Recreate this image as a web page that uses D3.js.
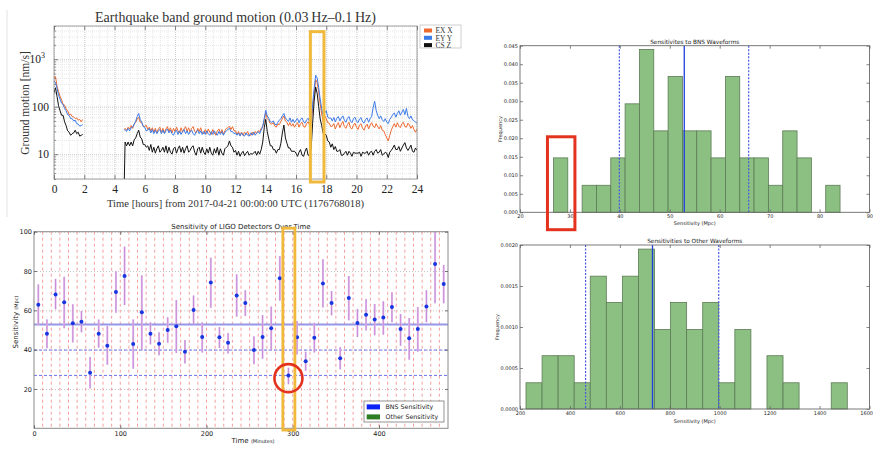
<!DOCTYPE html>
<html><head><meta charset="utf-8">
<script src="https://cdn.jsdelivr.net/npm/d3@7"></script>
<style>body{margin:0;background:#fff}svg{display:block}</style>
</head><body><svg id="c" width="873" height="455"></svg>
<script>
// ================= DATA =================
// Panel 1: earthquake band ground motion (nm/s) vs hours
const p1XTicks = [0,2,4,6,8,10,12,14,16,18,20,22,24];
const p1YTicks = [10,100,1000];
const seriesNames = ["EX X","EY Y","CS Z"];
const hoursA = [0.0,0.1,0.2,0.3,0.4,0.5,0.6,0.7,0.8,0.9,1.0,1.1,1.2,1.3,1.4,1.5,1.6,1.7,1.8,1.9];
const exA = [400,430,270,210,165,140,112,108,90,82,68,70,62,61,56,58,52,54,48,54];
const eyA = [350,320,245,175,145,118,112,92,82,68,66,56,56,50,52,44,43,39,40,42];
const czA = [200,250,165,105,82,66,66,48,40,31,29,25,27,28,32,27,29,24,25,26];
const hoursB = [4.65,4.7,4.8,4.9,
 5.0,5.1,5.2,5.3,5.4,5.5,5.6,5.7,5.8,5.9,
 6.0,6.1,6.2,6.3,6.4,6.5,6.6,6.7,6.8,6.9,
 7.0,7.1,7.2,7.3,7.4,7.5,7.6,7.7,7.8,7.9,
 8.0,8.1,8.2,8.3,8.4,8.5,8.6,8.7,8.8,8.9,
 9.0,9.1,9.2,9.3,9.4,9.5,9.6,9.7,9.8,9.9,
 10.0,10.1,10.2,10.3,10.4,10.5,10.6,10.7,10.8,10.9,
 11.0,11.1,11.2,11.3,11.4,11.5,11.6,11.7,11.8,11.9,
 12.0,12.1,12.2,12.3,12.4,12.5,12.6,12.7,12.8,12.9,
 13.0,13.1,13.2,13.3,13.4,13.5,13.6,13.7,13.8,13.9,
 14.0,14.1,14.2,14.3,14.4,14.5,14.6,14.7,14.8,14.9,
 15.0,15.1,15.2,15.3,15.4,15.5,15.6,15.7,15.8,15.9,
 16.0,16.1,16.2,16.3,16.4,16.5,16.6,16.7,16.8,16.9,
 17.0,17.1,17.2,17.3,17.4,17.5,17.6,17.7,17.8,17.9,
 18.0,18.1,18.2,18.3,18.4,18.5,18.6,18.7,18.8,18.9,
 19.0,19.1,19.2,19.3,19.4,19.5,19.6,19.7,19.8,19.9,
 20.0,20.1,20.2,20.3,20.4,20.5,20.6,20.7,20.8,20.9,
 21.0,21.1,21.2,21.3,21.4,21.5,21.6,21.7,21.8,21.9,
 22.0,22.1,22.2,22.3,22.4,22.5,22.6,22.7,22.8,22.9,
 23.0,23.1,23.2,23.3,23.4,23.5,23.6,23.7,23.8,23.9,
 24.0];
const exB = [33,35,32,37,
 34,40,35,43,47,55,60,47,46,39,
 38,41,33,37,31,36,29,35,28,34,
 37,29,35,28,34,38,30,36,28,35,
 30,37,31,28,36,29,34,38,30,36,
 29,35,38,30,28,35,30,36,28,27,
 33,27,34,29,26,33,28,25,31,34,
 28,33,26,31,35,36,39,33,38,31,
 31,26,30,25,29,25,29,26,30,25,
 25,29,26,30,27,31,30,35,38,50,
 75,56,52,44,43,46,39,37,43,42,
 49,56,64,50,47,40,46,39,44,37,
 42,46,37,44,47,38,37,44,48,41,
 46,90,190,370,320,200,115,70,48,64,
 56,46,45,38,39,44,34,41,46,36,
 43,49,38,35,42,47,36,34,41,45,
 37,33,41,44,35,32,39,43,34,41,
 46,39,36,44,38,34,40,32,31,26,
 22,19,25,32,38,44,37,46,39,36,
 44,47,38,37,45,41,35,40,33,29,
 34];
const eyB = [32,33,30,35,
 31,36,37,43,49,62,72,54,47,38,
 37,31,32,35,28,33,27,32,27,31,
 33,27,32,27,31,34,28,32,27,25,
 30,32,26,31,26,30,33,27,31,26,
 30,32,27,25,30,32,27,31,26,30,
 26,31,27,25,30,26,31,27,25,30,
 26,30,25,29,31,33,35,30,30,27,
 28,25,28,24,28,25,24,28,25,24,
 28,25,29,25,28,30,27,32,39,57,
 84,64,57,48,47,50,43,41,47,52,
 56,64,72,58,53,49,58,47,54,46,
 52,56,46,54,58,48,45,53,57,48,
 54,110,240,460,400,250,145,90,63,74,
 82,60,57,58,50,59,48,57,62,50,
 58,64,52,47,57,62,50,46,56,60,
 49,46,55,59,48,45,54,58,47,56,
 62,95,130,83,66,56,64,53,49,56,
 47,44,54,60,68,74,60,72,82,66,
 77,87,68,92,63,56,64,53,51,47,
 45];
const czB = [3,18,15,18,
 15,18,15,20,22,27,32,23,21,16,
 16,14,15,12,16,11,14,10.5,13,15,
 11,12,14,11,15,10.5,14,11,10,13,
 14,10.5,13,15,11,14,10.5,13,15,11,
 12,14,15,11,9.5,13,14,10.5,14,11,
 9.8,13,10.5,14,10.5,9.5,13,10.5,14,9.5,
 13,10.5,9.5,13,14,15,19,15,14,11,
 12,9.5,11.5,9,10.5,11.5,9.3,10.5,11.5,9.5,
 10.3,10,10.5,11.5,9.5,11.5,10,12.5,18,36,
 54,30,21,15,15,12.5,12.5,10.5,12.5,12.5,
 17,28,41,22,17,13.5,13.5,11.5,11.5,11.5,
 10.5,9,11,12.5,9.5,9,11.5,13.5,9.5,9.5,
 13,45,130,260,190,100,55,40,27,27,
 25,19,18,14,16.5,12.5,14.5,11.5,11.5,12.5,
 9.5,9.5,10.5,11.5,9.5,11.5,10.5,9,11,10.5,
 10.5,10.5,11,9,11,10.5,10.5,11.5,9.5,11,
 11.5,9.5,11.5,12.5,10.5,11,12.5,9.5,10,11,
 10.5,8.5,11,12,13.5,15.5,12.5,12.5,14.5,11.5,
 13.5,15.5,17.5,13.5,12,13.5,15.5,11.5,11,13.5,
 12];
const p1Highlight = [16.95, 17.85]; // hours

// Panel 2: sensitivity over time
const minutes = [5,15,25,35,45,55,65,75,85,95,105,115,125,135,145,155,165,175,185,195,205,215,225,235,245,255,265,275,285,295,305,315,325,335,345,355,365,375,385,395,405,415,425,435,445,455,465,475];
const sensitivity = [62.9,48.1,68.1,64.1,53.4,54.2,28.3,48.1,42.0,69.3,77.5,42.9,59.0,48.1,43.0,50.0,51.9,39.0,60.2,46.4,74.1,46.3,43.5,67.6,63.7,39.8,46.4,50.9,76.3,26.8,46.3,34.1,46.1,73.7,63.7,35.6,66.3,53.6,57.8,55.4,56.3,61.7,50.5,45.8,50.5,62.0,83.6,73.4];
const errLow = [52.5,40.7,60.5,50.9,43.7,48.8,20.3,41.0,32.3,58.8,62.7,30.3,39.8,42.7,37.1,43.5,38.3,33.0,52.9,38.5,61.3,40.8,38.1,56.8,57.1,32.6,35.4,39.8,64.9,22.4,37.6,29.3,38.5,61.5,57.5,30.0,54.9,46.4,49.8,47.3,47.6,53.9,42.0,34.9,39.0,53.9,63.6,63.6];
const errHigh = [73.2,55.4,76.0,77.1,63.1,59.7,36.3,55.3,52.0,79.9,92.4,55.4,77.8,53.9,48.8,56.5,65.3,44.9,67.6,53.9,86.8,51.5,48.5,78.3,70.2,46.8,57.6,61.9,87.6,30.8,54.6,39.0,53.7,86.0,69.8,41.3,77.5,60.7,65.8,63.2,64.6,69.2,58.1,56.1,61.7,70.2,100,83.0];
const segmentBounds = [10,20,30,40,50,60,70,80,90,100,110,120,130,140,150,160,170,180,190,200,210,220,230,240,250,260,270,280,290,300,310,320,330,340,350,360,370,380,390,400,410,420,430,440,450,460,470];
const p2MeanLevel = 52.8;
const p2DashLevels = [39.8, 26.9];
const p2XTicks = [0,100,200,300,400];
const p2YTicks = [20,40,60,80,100];
const p2Legend = ["BNS Sensitivity","Other Sensitivity"];
const p2Highlight = [288.5, 302.5]; // minutes
const p2Circle = [295, 25.5];

// Panel 3: BNS histogram
const bnsEdges = [26.7,29.57,32.44,35.31,38.18,41.05,43.92,46.79,49.66,52.53,55.4,58.27,61.14,64.01,66.88,69.75,72.62,75.49,78.36,81.23,84.1];
const bnsFreq = [0.0147,0,0.0073,0.0073,0.0147,0.0293,0.0440,0.0220,0.0367,0.0220,0.0220,0.0147,0.0367,0.0147,0.0147,0.0073,0.0220,0.0147,0,0.0073];
const bnsLines = {mean:52.9, lo:39.9, hi:65.8};
const p3XTicks = [20,30,40,50,60,70,80,90];
const p3YTicks = [0,0.005,0.010,0.015,0.020,0.025,0.030,0.035,0.040,0.045];
const p3Highlight = [25.5, 31.0]; // Mpc

// Panel 4: Other waveforms histogram
const otherEdges = [224,288.4,352.7,417.1,481.4,545.8,610.1,674.5,738.8,803.2,867.5,931.9,996.2,1060.6,1124.9,1189.3,1253.6,1318,1382.3,1446.7,1511];
const otherFreq = [0.00032,0.00065,0.00065,0.00032,0.00162,0.0013,0.00162,0.00195,0.00097,0.0013,0.00097,0.0013,0.00032,0.00097,0,0.00065,0.00032,0,0,0.00032];
const otherLines = {mean:730.7, lo:462.7, hi:996};
const p4XTicks = [200,400,600,800,1000,1200,1400,1600];
const p4YTicks = [0,0.0005,0.0010,0.0015,0.0020];

// ================= DRAWING =================
const SERIF = "'Liberation Serif','DejaVu Serif',serif";
const SANS = "'DejaVu Sans',sans-serif";
const svg = d3.select("#c");
svg.append("rect").attr("width",873).attr("height",455).attr("fill","#fff");
const defs = svg.append("defs");
function clip(id,l,t,r,b){defs.append("clipPath").attr("id",id).append("rect").attr("x",l).attr("y",t).attr("width",r-l).attr("height",b-t);}

function styleAxis(g, color, size, font){
  g.select(".domain").remove();
  g.selectAll(".tick line").attr("stroke",color).attr("stroke-width",0.8);
  g.selectAll(".tick text").attr("fill","#222").attr("font-size",size).attr("font-family",font);
}

// faint page edge line
svg.append("line").attr("x1",7).attr("x2",7).attr("y1",10).attr("y2",217).attr("stroke","#e2e2e2");

// ---------- Panel 1 ----------
(function(){
  const P = {l:54,r:417,t:26,b:179};
  const x = d3.scaleLinear().domain([0,24]).range([P.l,P.r]);
  const y = d3.scaleLog().domain([3,5000]).range([P.b,P.t]);
  const g = svg.append("g");
  clip("clip1",P.l,P.t,P.r,P.b);
  // grids
  g.append("g").attr("transform",`translate(0,${P.b})`)
    .call(d3.axisBottom(x).tickValues(d3.range(0,24.01,0.5)).tickSize(-(P.b-P.t)).tickFormat(""))
    .call(a=>{a.select(".domain").remove(); a.selectAll("line").attr("stroke","#d6d6d6").attr("stroke-dasharray","1,1").attr("stroke-width",0.6);});
  g.append("g").attr("transform",`translate(${P.l},0)`)
    .call(d3.axisLeft(y).tickValues(y.ticks()).tickSize(-(P.r-P.l)).tickFormat(""))
    .call(a=>{a.select(".domain").remove(); a.selectAll("line").attr("stroke","#d6d6d6").attr("stroke-dasharray","1,1").attr("stroke-width",0.6);});
  g.append("g").attr("transform",`translate(0,${P.b})`)
    .call(d3.axisBottom(x).tickValues(p1XTicks).tickSize(-(P.b-P.t)).tickFormat(""))
    .call(a=>{a.select(".domain").remove(); a.selectAll("line").attr("stroke","#c4c4c4").attr("stroke-dasharray","1,1").attr("stroke-width",0.7);});
  g.append("g").attr("transform",`translate(${P.l},0)`)
    .call(d3.axisLeft(y).tickValues(p1YTicks).tickSize(-(P.r-P.l)).tickFormat(""))
    .call(a=>{a.select(".domain").remove(); a.selectAll("line").attr("stroke","#c4c4c4").attr("stroke-dasharray","1,1").attr("stroke-width",0.7);});
  // series
  const colors = ["#ee6a2f","#3b7be8","#111111"];
  const A = [exA,eyA,czA], B = [exB,eyB,czB];
  const line = d3.line().x(d=>x(d[0])).y(d=>y(d[1]));
  const lg = g.append("g").attr("clip-path","url(#clip1)");
  A.forEach((s,i)=>{
    lg.append("path").datum(d3.zip(hoursA,s)).attr("d",line).attr("fill","none").attr("stroke",colors[i]).attr("stroke-width",1);
    lg.append("path").datum(d3.zip(hoursB,B[i])).attr("d",line).attr("fill","none").attr("stroke",colors[i]).attr("stroke-width",1);
  });
  // frame
  g.append("rect").attr("x",P.l).attr("y",P.t).attr("width",P.r-P.l).attr("height",P.b-P.t).attr("fill","none").attr("stroke","#8a8a8a").attr("stroke-width",0.8);
  // axes
  g.append("g").attr("transform",`translate(0,${P.b})`)
    .call(d3.axisBottom(x).tickValues(p1XTicks).tickSize(-4).tickPadding(6))
    .call(a=>styleAxis(a,"#666",11.5,SERIF));
  g.append("g").attr("transform",`translate(0,${P.t})`)
    .call(d3.axisTop(x).tickValues(p1XTicks).tickSize(-4).tickFormat(""))
    .call(a=>styleAxis(a,"#666",11,SERIF));
  const ya = g.append("g").attr("transform",`translate(${P.l},0)`)
    .call(d3.axisLeft(y).tickValues(p1YTicks).tickSize(-4).tickPadding(5).tickFormat(d=>d===1000?"10":String(d)))
    .call(a=>styleAxis(a,"#666",11.5,SERIF));
  ya.selectAll(".tick text").filter(d=>d===1000).attr("dx",-4).append("tspan").attr("dy",-5).attr("font-size",8).text("3");
  g.append("g").attr("transform",`translate(${P.l},0)`)
    .call(d3.axisLeft(y).tickValues(y.ticks().filter(v=>!p1YTicks.includes(v))).tickSize(-2).tickFormat(""))
    .call(a=>styleAxis(a,"#777",11,SERIF));
  // texts
  g.append("text").attr("x",(P.l+P.r)/2).attr("y",22).attr("text-anchor","middle").attr("font-family",SERIF).attr("font-size",14).attr("fill","#333")
    .text("Earthquake band ground motion (0.03\u2009Hz\u20130.1\u2009Hz)");
  g.append("text").attr("x",(P.l+P.r)/2).attr("y",207).attr("text-anchor","middle").attr("font-family",SERIF).attr("font-size",10.6).attr("fill","#333")
    .text("Time [hours] from 2017-04-21 00:00:00 UTC (1176768018)");
  g.append("text").attr("transform","translate(29,103) rotate(-90)").attr("text-anchor","middle").attr("font-family",SERIF).attr("font-size",11.5).attr("fill","#333")
    .text("Ground motion [nm/s]");
  // legend
  const L = g.append("g");
  L.append("rect").attr("x",420).attr("y",25).attr("width",41).attr("height",23).attr("fill","#fff").attr("stroke","#bbb").attr("stroke-width",0.7);
  seriesNames.forEach((n,i)=>{
    L.append("rect").attr("x",424).attr("y",28.5+i*7.3).attr("width",8).attr("height",4).attr("fill",colors[i]);
    L.append("text").attr("x",435.5).attr("y",33.3+i*7.3).attr("font-family",SERIF).attr("font-size",7.5).attr("fill","#333").text(n);
  });
  // highlight box
  g.append("rect").attr("x",x(p1Highlight[0])).attr("y",y(3800)).attr("width",x(p1Highlight[1])-x(p1Highlight[0])).attr("height",y(3)+3-y(3800))
    .attr("fill","none").attr("stroke","#f0b93c").attr("stroke-width",3);
})();

// ---------- Panel 2 ----------
(function(){
  const P = {l:34,r:448,t:231.7,b:428.3};
  const x = d3.scaleLinear().domain([0,480]).range([P.l,P.r]);
  const y = d3.scaleLinear().domain([0,100]).range([P.b,P.t]);
  const g = svg.append("g");
  clip("clip2",P.l,P.t,P.r,P.b);
  const c = g.append("g").attr("clip-path","url(#clip2)");
  c.append("g").attr("transform",`translate(${P.l},0)`)
    .call(d3.axisLeft(y).tickValues(p2YTicks).tickSize(-(P.r-P.l)).tickFormat(""))
    .call(a=>{a.select(".domain").remove(); a.selectAll("line").attr("stroke","#b5b5b5").attr("stroke-dasharray","1,2").attr("stroke-width",0.8);});
  c.selectAll("line.seg").data(segmentBounds).join("line")
    .attr("x1",d=>x(d)).attr("x2",d=>x(d)).attr("y1",P.t).attr("y2",P.b)
    .attr("stroke","#f28585").attr("stroke-dasharray","3,3").attr("stroke-width",0.8);
  c.append("line").attr("x1",P.l).attr("x2",P.r).attr("y1",y(p2MeanLevel)).attr("y2",y(p2MeanLevel)).attr("stroke","#9697e6").attr("stroke-width",1.8);
  c.selectAll("line.lvl").data(p2DashLevels).join("line")
    .attr("x1",P.l).attr("x2",P.r).attr("y1",d=>y(d)).attr("y2",d=>y(d))
    .attr("stroke","#5d62e8").attr("stroke-dasharray","3,2").attr("stroke-width",0.9);
  c.selectAll("line.eb").data(minutes).join("line")
    .attr("x1",d=>x(d)).attr("x2",d=>x(d)).attr("y1",(d,i)=>y(errLow[i])).attr("y2",(d,i)=>y(errHigh[i]))
    .attr("stroke","#e2bdeb").attr("stroke-width",2);
  c.selectAll("line.eb2").data(minutes).join("line")
    .attr("x1",d=>x(d)).attr("x2",d=>x(d)).attr("y1",(d,i)=>y(errLow[i])).attr("y2",(d,i)=>y(errHigh[i]))
    .attr("stroke","#c07fd2").attr("stroke-width",0.8);
  c.selectAll("circle.pt").data(minutes).join("circle")
    .attr("cx",d=>x(d)).attr("cy",(d,i)=>y(sensitivity[i])).attr("r",2).attr("fill","#1836e0");
  g.append("rect").attr("x",P.l).attr("y",P.t).attr("width",P.r-P.l).attr("height",P.b-P.t).attr("fill","none").attr("stroke","#8a8a8a").attr("stroke-width",1);
  g.append("g").attr("transform",`translate(0,${P.b})`)
    .call(d3.axisBottom(x).tickValues(p2XTicks).tickSize(-3).tickPadding(3))
    .call(a=>styleAxis(a,"#555",6.5,SANS));
  g.append("g").attr("transform",`translate(0,${P.t})`)
    .call(d3.axisTop(x).tickValues(p2XTicks).tickSize(-3).tickFormat(""))
    .call(a=>styleAxis(a,"#555",6.5,SANS));
  g.append("g").attr("transform",`translate(${P.l},0)`)
    .call(d3.axisLeft(y).tickValues(p2YTicks).tickSize(-3).tickPadding(2))
    .call(a=>styleAxis(a,"#555",6.5,SANS));
  g.append("g").attr("transform",`translate(${P.r},0)`)
    .call(d3.axisRight(y).tickValues(p2YTicks).tickSize(-3).tickFormat(""))
    .call(a=>styleAxis(a,"#555",6.5,SANS));
  g.append("text").attr("x",(P.l+P.r)/2).attr("y",229.3).attr("text-anchor","middle").attr("font-family",SANS).attr("font-size",7).attr("fill","#222")
    .text("Sensitivity of LIGO Detectors Over Time");
  const xl = g.append("text").attr("x",253).attr("y",442.5).attr("text-anchor","middle").attr("font-family",SANS).attr("font-size",7).attr("fill","#222");
  xl.append("tspan").text("Time ");
  xl.append("tspan").attr("font-size",5).text("(Minutes)");
  const yl = g.append("text").attr("transform","translate(17.5,322) rotate(-90)").attr("text-anchor","middle").attr("font-family",SANS).attr("font-size",7).attr("fill","#222");
  yl.append("tspan").text("Sensitivity ");
  yl.append("tspan").attr("font-size",5).text("(Mpc)");
  const L = g.append("g");
  L.append("rect").attr("x",364).attr("y",401).attr("width",80).attr("height",21).attr("fill","#fff").attr("stroke","#666").attr("stroke-width",0.7);
  const lc = ["#0a22f5","#2e7e24"];
  p2Legend.forEach((n,i)=>{
    L.append("rect").attr("x",366.7).attr("y",404.4+i*10).attr("width",13.3).attr("height",5).attr("fill",lc[i]);
    L.append("text").attr("x",385.5).attr("y",409.4+i*10).attr("font-family",SANS).attr("font-size",6.3).attr("fill","#222").text(n);
  });
  g.append("rect").attr("x",x(p2Highlight[0])).attr("y",y(101.8)).attr("width",x(p2Highlight[1])-x(p2Highlight[0])).attr("height",y(-0.9)-y(101.8))
    .attr("fill","none").attr("stroke","#f0b93c").attr("stroke-width",2.8);
  g.append("circle").attr("cx",x(p2Circle[0])).attr("cy",y(p2Circle[1])).attr("r",14).attr("fill","none").attr("stroke","#e3331f").attr("stroke-width",2.6);
})();

// ---------- Histograms ----------
function hist(cfg){
  const P = cfg.P;
  const x = d3.scaleLinear().domain(cfg.xDom).range([P.l,P.r]);
  const y = d3.scaleLinear().domain(cfg.yDom).range([P.b,P.t]);
  const g = svg.append("g");
  const bars = cfg.freq.map((f,i)=>({f,x0:cfg.edges[i],x1:cfg.edges[i+1]})).filter(d=>d.f>0);
  g.selectAll("rect.bar").data(bars).join("rect")
    .attr("x",d=>x(d.x0)).attr("width",d=>x(d.x1)-x(d.x0)).attr("y",d=>y(d.f)).attr("height",d=>y(0)-y(d.f))
    .attr("fill","#8cbf82").attr("stroke","#5d7c56").attr("stroke-width",0.8);
  g.append("line").attr("x1",x(cfg.lines.mean)).attr("x2",x(cfg.lines.mean)).attr("y1",P.t).attr("y2",P.b).attr("stroke","#1f3fdc").attr("stroke-width",1.3);
  [cfg.lines.lo,cfg.lines.hi].forEach(v=>{
    g.append("line").attr("x1",x(v)).attr("x2",x(v)).attr("y1",P.t).attr("y2",P.b).attr("stroke","#4658e2").attr("stroke-width",1.2).attr("stroke-dasharray","2,1.5");
  });
  g.append("rect").attr("x",P.l).attr("y",P.t).attr("width",P.r-P.l).attr("height",P.b-P.t).attr("fill","none").attr("stroke","#6a6a6a").attr("stroke-width",0.9);
  const xa = g.append("g").attr("transform",`translate(0,${P.b})`)
    .call(d3.axisBottom(x).tickValues(cfg.xTicks).tickSize(-3).tickPadding(2.5).tickFormat(d3.format("d")))
    .call(a=>styleAxis(a,"#666",5,SANS));
  // keep the last label inside the picture
  xa.selectAll(".tick text").filter((d,i,n)=>i===n.length-1).attr("text-anchor","end").attr("dx",3);
  g.append("g").attr("transform",`translate(0,${P.t})`)
    .call(d3.axisTop(x).tickValues(cfg.xTicks).tickSize(-3).tickFormat(""))
    .call(a=>styleAxis(a,"#666",5,SANS));
  g.append("g").attr("transform",`translate(${P.l},0)`)
    .call(d3.axisLeft(y).tickValues(cfg.yTicks).tickSize(-3).tickPadding(2).tickFormat(cfg.yFmt))
    .call(a=>styleAxis(a,"#666",5,SANS));
  g.append("g").attr("transform",`translate(${P.r},0)`)
    .call(d3.axisRight(y).tickValues(cfg.yTicks).tickSize(-3).tickFormat(""))
    .call(a=>styleAxis(a,"#666",5,SANS));
  g.append("text").attr("x",(P.l+P.r)/2).attr("y",cfg.titleY).attr("text-anchor","middle").attr("font-family",SANS).attr("font-size",5.8).attr("fill","#222").text(cfg.title);
  g.append("text").attr("x",(P.l+P.r)/2).attr("y",cfg.xlabY).attr("text-anchor","middle").attr("font-family",SANS).attr("font-size",5).attr("fill","#222").text("Sensitivity (Mpc)");
  g.append("text").attr("transform",`translate(${cfg.ylab[0]},${cfg.ylab[1]}) rotate(-90)`).attr("text-anchor","middle").attr("font-family",SANS).attr("font-size",5).attr("fill","#222").text("Frequency");
  return {x,y,g};
}
const h3 = hist({P:{l:520,r:869.5,t:45.7,b:212.3},xDom:[20,90],yDom:[0,0.045],edges:bnsEdges,freq:bnsFreq,lines:bnsLines,
  xTicks:p3XTicks,yTicks:p3YTicks,yFmt:d3.format(".3f"),title:"Sensitivites to BNS Waveforms",titleY:44,xlabY:224.5,ylab:[502,129]});
h3.g.append("rect").attr("x",h3.x(p3Highlight[0])).attr("y",h3.y(0.0204)).attr("width",h3.x(p3Highlight[1])-h3.x(p3Highlight[0])).attr("height",h3.y(-0.0047)-h3.y(0.0204))
  .attr("fill","none").attr("stroke","#e3331f").attr("stroke-width",3);
hist({P:{l:520,r:869.5,t:245,b:409},xDom:[200,1600],yDom:[0,0.002],edges:otherEdges,freq:otherFreq,lines:otherLines,
  xTicks:p4XTicks,yTicks:p4YTicks,yFmt:d3.format(".4f"),title:"Sensitivities to Other Waveforms",titleY:243,xlabY:423,ylab:[499,327]});
</script></body></html>
